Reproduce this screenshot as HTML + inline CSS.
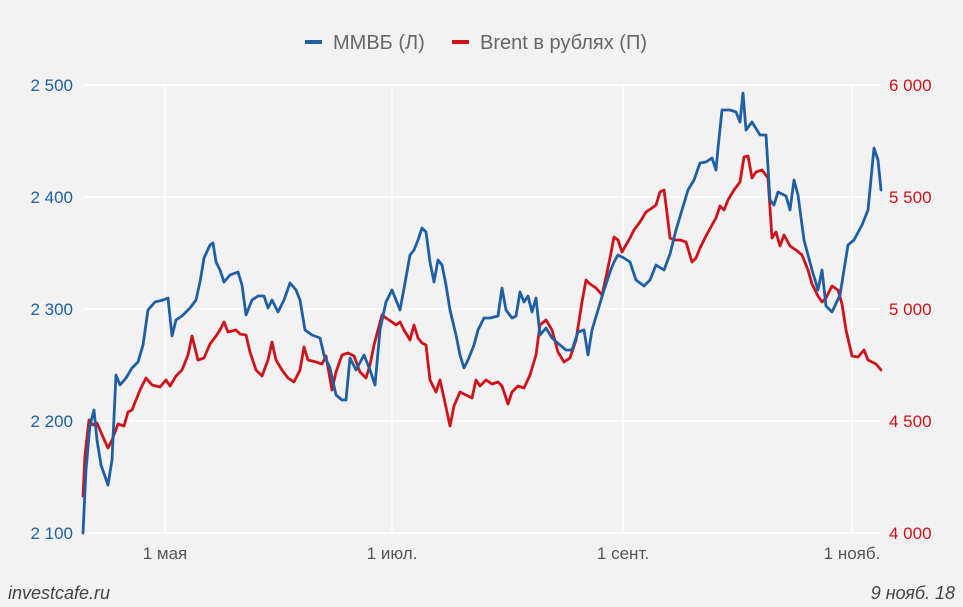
<!DOCTYPE html>
<html><head><meta charset="utf-8"><style>
html,body{margin:0;padding:0;background:#f2f2f2;}
svg{display:block;font-family:"Liberation Sans","DejaVu Sans",sans-serif;}
</style></head><body>
<svg width="963" height="607" viewBox="0 0 963 607" xmlns="http://www.w3.org/2000/svg">
<rect width="963" height="607" fill="#f2f2f2"/>
<g stroke="#ffffff" stroke-width="1.5">
<line x1="83" y1="85" x2="880" y2="85"/>
<line x1="83" y1="197" x2="880" y2="197"/>
<line x1="83" y1="309" x2="880" y2="309"/>
<line x1="83" y1="421" x2="880" y2="421"/>
<line x1="83" y1="533" x2="880" y2="533"/>
<line x1="165" y1="85" x2="165" y2="533"/>
<line x1="392" y1="85" x2="392" y2="533"/>
<line x1="623" y1="85" x2="623" y2="533"/>
<line x1="852" y1="85" x2="852" y2="533"/>
</g>
<g fill="#1f5fa5" font-size="17" text-anchor="end">
<text x="73" y="91">2 500</text>
<text x="73" y="203">2 400</text>
<text x="73" y="315">2 300</text>
<text x="73" y="427">2 200</text>
<text x="73" y="539">2 100</text>
</g>
<g fill="#d0121b" font-size="17" text-anchor="start">
<text x="889" y="91">6 000</text>
<text x="889" y="203">5 500</text>
<text x="889" y="315">5 000</text>
<text x="889" y="427">4 500</text>
<text x="889" y="539">4 000</text>
</g>
<g fill="#555" font-size="17" text-anchor="middle">
<text x="165" y="559">1 мая</text>
<text x="392" y="559">1 июл.</text>
<text x="623" y="559">1 сент.</text>
<text x="852" y="559">1 нояб.</text>
</g>
<text x="8" y="599" fill="#444" font-size="18" font-style="italic">investcafe.ru</text>
<text x="955" y="599" fill="#444" font-size="18" font-style="italic" text-anchor="end">9 нояб. 18</text>
<line x1="305" y1="42" x2="322" y2="42" stroke="#1f5fa5" stroke-width="4"/>
<text x="333" y="49" fill="#666" font-size="20">ММВБ (Л)</text>
<line x1="452" y1="42" x2="469" y2="42" stroke="#d0121b" stroke-width="4"/>
<text x="480" y="49" fill="#666" font-size="20">Brent в рублях (П)</text>
<polyline fill="none" stroke="#d0121b" stroke-width="2.8" stroke-linejoin="round" stroke-linecap="round" points="83,496 85,455 89,420 93,425 97,423 103,437 108,448 112,440 118,424 124,426 128,412 132,410 136,400 140,390 146,378 152,385 160,387 166,380 170,386 176,376 182,370 188,355 192,336 198,360 204,358 210,344 216,336 220,330 224,322 228,332 236,330 240,334 246,335 250,352 256,370 262,376 268,360 272,342 276,360 282,370 288,378 294,382 300,370 304,347 308,360 316,362 322,364 326,356 332,390 336,372 342,355 348,353 354,356 360,372 366,378 370,365 374,345 378,330 382,315 386,318 392,322 396,325 400,322 404,330 410,340 414,325 418,338 422,343 426,345 430,380 436,392 440,380 444,398 450,426 454,406 460,392 466,395 472,398 476,380 480,386 486,380 492,384 498,382 502,386 508,404 512,392 518,386 524,388 530,375 536,355 540,325 546,320 552,330 558,352 564,362 570,358 576,340 582,302 586,280 590,284 596,288 602,295 606,277 610,258 614,237 618,240 622,252 626,245 630,238 634,230 640,222 646,212 652,208 656,205 660,192 664,190 666,205 670,238 674,240 680,240 686,242 692,262 696,258 700,248 706,236 712,225 716,218 720,206 724,210 728,200 734,190 740,182 744,157 748,156 752,178 756,172 762,170 768,178 772,238 776,232 780,246 784,235 790,246 796,250 802,255 808,270 812,284 818,296 822,302 826,298 832,286 838,290 842,304 846,330 852,356 858,357 864,350 868,360 872,362 876,364 881,370"/>
<polyline fill="none" stroke="#1f5fa5" stroke-width="2.8" stroke-linejoin="round" stroke-linecap="round" points="83,533 86,470 90,425 94,410 97,440 101,465 108,485 112,460 116,375 120,385 126,378 132,368 138,362 143,345 148,310 155,302 163,300 168,298 172,336 176,320 182,316 190,308 196,300 200,282 204,258 210,245 213,243 216,262 220,270 224,282 230,275 238,272 242,285 246,315 252,300 258,296 264,296 268,308 272,300 278,312 284,300 290,283 296,290 300,300 305,330 312,335 320,338 324,355 330,368 336,395 342,400 346,400 350,358 356,370 364,355 370,370 375,385 380,330 386,302 392,290 396,300 400,310 405,283 410,255 414,250 418,240 422,228 426,232 430,262 434,282 438,260 442,265 446,285 450,310 456,335 460,355 464,368 468,360 474,345 478,330 484,318 490,318 498,316 502,288 506,310 512,318 516,316 520,292 524,302 528,296 532,312 536,298 540,335 546,328 552,338 560,345 566,350 572,350 578,332 584,330 588,355 592,330 598,310 604,290 610,272 614,262 618,255 624,258 630,262 636,280 644,286 650,280 656,265 664,270 670,254 676,230 682,210 688,190 694,180 700,163 706,162 712,158 716,170 718,148 722,110 730,110 736,112 740,122 743,93 746,130 752,122 760,135 766,135 770,200 774,205 778,192 786,196 790,210 794,180 798,195 804,240 812,270 818,290 822,270 826,306 832,312 840,295 848,245 854,240 862,225 868,210 874,148 878,160 881,190"/>
</svg>
</body></html>
